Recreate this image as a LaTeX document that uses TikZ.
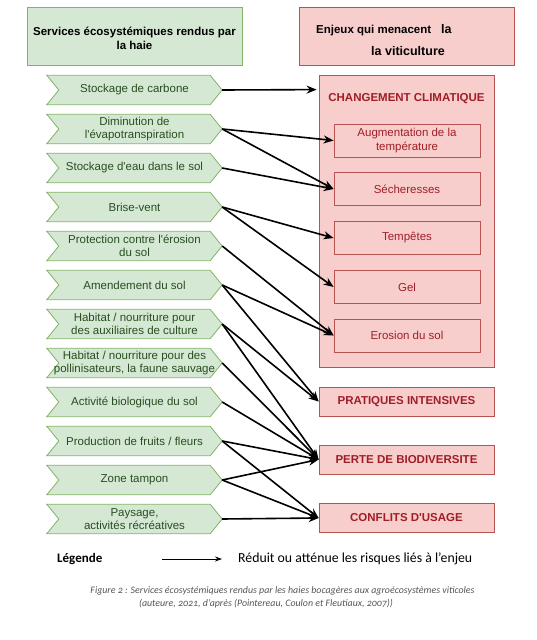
\documentclass[tikz,border=0pt]{standalone}
\usepackage{fontspec}
\setmainfont{Liberation Sans}[Ligatures=TeXOff]
\newfontfamily\calib{Carlito}
\newfontfamily\calibos{Carlito}[Numbers=OldStyle]
\usetikzlibrary{arrows.meta,backgrounds,calc}
\definecolor{gfill}{HTML}{D5E8D4}
\definecolor{gdraw}{HTML}{82B366}
\definecolor{gtext}{RGB}{40,78,32}
\definecolor{rfill}{HTML}{F8CECC}
\definecolor{rdraw}{HTML}{B85450}
\definecolor{rtext}{RGB}{160,30,40}
\definecolor{captext}{RGB}{85,85,85}
\begin{document}
\begin{tikzpicture}[x=1pt,y=-1pt,
 svc/.style={minimum width=175pt,minimum height=29pt,inner sep=0pt,align=center,text=gtext,font=\fontsize{11.5}{13.5}\selectfont},
 chevshape/.style={fill=gfill,draw=gdraw,line width=0.8pt},
 sub/.style={draw=rdraw,fill=rfill,line width=0.8pt,minimum width=146pt,minimum height=33pt,inner sep=0pt,text=rtext,align=center,font=\fontsize{11.5}{13.5}\selectfont},
 issue/.style={draw=rdraw,fill=rfill,line width=0.8pt,minimum width=175pt,minimum height=29pt,inner sep=0pt,text=rtext,font=\bfseries\fontsize{11.5}{13.5}\selectfont},
 headbox/.style={line width=0.8pt,minimum width=215pt,minimum height=58pt,inner sep=0pt,align=center},
 conn/.style={-{Stealth[length=10pt,width=8pt]},line width=1.6pt,black},
]
\useasboundingbox (0,0) rectangle (536,640);

% titles
\node[headbox,draw=gdraw,fill=gfill] (lt) at (134.5,36) {};
\node[inner sep=0pt,align=center,font=\bfseries\fontsize{11.5}{14}\selectfont] (ltt) at (134.5,38) {Services écosystémiques rendus par\\la haie};
\node[headbox,draw=rdraw,fill=rfill] (rt) at (406.5,36) {};
\node[anchor=west,inner sep=0pt,font=\bfseries\fontsize{11.5}{14}\selectfont] (rt1) at (316,30) {Enjeux qui menacent\hspace{10pt}{\fontsize{12.5}{14}\selectfont la}};
\node[anchor=west,inner sep=0pt,font=\bfseries\fontsize{12.5}{14}\selectfont] (rt2) at (371,51) {la viticulture};

% services
\node[svc] (s1) at (134.5,90) {Stockage de carbone};
\node[svc] (s2) at (134.5,129) {Diminution de\\l'évapotranspiration};
\node[svc] (s3) at (134.5,168) {Stockage d'eau dans le sol};
\node[svc] (s4) at (134.5,207) {Brise-vent};
\node[svc] (s5) at (134.5,246) {Protection contre l'érosion\\du sol};
\node[svc] (s6) at (134.5,285) {Amendement du sol};
\node[svc] (s7) at (134.5,324) {Habitat / nourriture pour\\des auxiliaires de culture};
\node[svc] (s8) at (134.5,363) {Habitat / nourriture pour des\\pollinisateurs, la faune sauvage};
\node[svc] (s9) at (134.5,402) {Activité biologique du sol};
\node[svc] (s10) at (134.5,441) {Production de fruits / fleurs};
\node[svc] (s11) at (134.5,480) {Zone tampon};
\node[svc] (s12) at (134.5,519) {Paysage,\\activités récréatives};
\begin{scope}[on background layer]
\foreach \n in {s1,s2,s3,s4,s5,s6,s7,s8,s9,s10,s11,s12}
  \draw[chevshape] (\n.north west) -- ([xshift=-12pt]\n.north east) -- (\n.east)
     -- ([xshift=-12pt]\n.south east) -- (\n.south west) -- ([xshift=12pt]\n.west) -- cycle;
\end{scope}

% issues
\node[draw=rdraw,fill=rfill,line width=0.8pt,minimum width=175pt,minimum height=292pt,inner sep=0pt] (cc) at (406.5,221) {};
\node[text=rtext,font=\bfseries\fontsize{11.5}{13.5}\selectfont] (cct) at (406.5,99) {CHANGEMENT CLIMATIQUE};
\node[sub] (aug) at (407,140.5) {Augmentation de la\\température};
\node[sub] (sec) at (407,189) {Sécheresses};
\node[sub] (tem) at (407,238) {Tempêtes};
\node[sub] (gel) at (407,287) {Gel};
\node[sub] (ero) at (407,335.5) {Erosion du sol};
\node[issue] (pra) at (406.5,401.5) {PRATIQUES INTENSIVES};
\node[issue] (per) at (406.5,459.5) {PERTE DE BIODIVERSITE};
\node[issue] (con) at (406.5,518) {CONFLITS D'USAGE};

% connectors
\draw[conn,shorten >=2pt] (s1.east) -- ([yshift=-15pt]cc.north west);
\draw[conn] (s2.east) -- (aug.west);
\draw[conn] (s2.east) -- (sec.west);
\draw[conn] (s3.east) -- (sec.west);
\draw[conn] (s4.east) -- (tem.west);
\draw[conn] (s4.east) -- (gel.west);
\draw[conn] (s5.east) -- (ero.west);
\draw[conn] (s6.east) -- (ero.west);
\draw[conn] (s6.east) -- (pra.west);
\draw[conn] (s7.east) -- (pra.west);
\draw[conn] (s7.east) -- (per.west);
\draw[conn] (s8.east) -- (per.west);
\draw[conn] (s9.east) -- (per.west);
\draw[conn] (s10.east) -- (per.west);
\draw[conn] (s10.east) -- (con.west);
\draw[conn] (s11.east) -- (per.west);
\draw[conn] (s11.east) -- (con.west);
\draw[conn] (s12.east) -- (con.west);

% legend
\node[anchor=west,inner sep=0pt,font=\calib\bfseries\fontsize{13}{15}\selectfont] (lg) at (57,559) {Légende};
\coordinate (la) at (162,559);
\coordinate (lb) at (222,559);
\draw[-{Stealth[length=7pt,width=5pt]},line width=0.8pt] (la) -- (lb);
\node[anchor=west,inner sep=0pt,font=\calib\fontsize{13.8}{15}\selectfont] (lgt) at (238,559) {Réduit ou atténue les risques liés à l’enjeu};

% caption
\node[inner sep=0pt,text=captext,font=\calibos\itshape\fontsize{9.9}{11}\selectfont] (cap1) at (282.5,591) {Figure 2 : Services écosystémiques rendus par les haies bocagères aux agroécosystèmes viticoles};
\node[inner sep=0pt,text=captext,font=\calibos\itshape\fontsize{9.9}{11}\selectfont] (cap2) at (266,604) {(auteure, 2021, d’après (Pointereau, Coulon et Fleutiaux, 2007))};
\end{tikzpicture}
\end{document}
